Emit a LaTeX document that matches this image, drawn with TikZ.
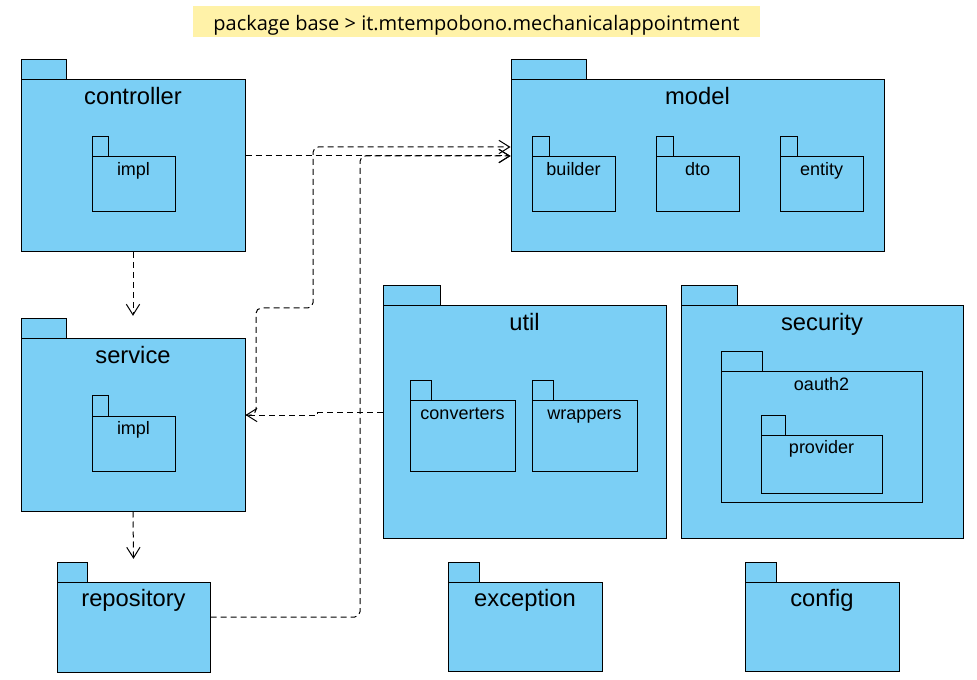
\documentclass[tikz,border=0pt]{standalone}
\usepackage{fontspec}
\setmainfont{Liberation Sans}
\newfontfamily\titlefont{Open Sans}
\usetikzlibrary{arrows.meta,fit,positioning}
\definecolor{pkgblue}{RGB}{123,207,245}
\definecolor{notey}{RGB}{255,242,168}
\tikzset{%
    tabbox/.style={draw, fill=pkgblue, line width=0.75pt, inner sep=0pt},
    pkgbox/.style={draw, fill=pkgblue, line width=0.75pt, inner sep=0pt},
    pkglbl/.style={font=\fontsize{17.8}{20}\selectfont, anchor=base, inner sep=0pt, yshift=-18.75pt},
    subpkglbl/.style={font=\fontsize{13.5}{16}\selectfont, anchor=base, inner sep=0pt, yshift=-14.6pt},
    dep/.style={line width=0.75pt, dash pattern=on 4.5pt off 3pt, -{Straight Barb[length=8pt,width=10pt]}},
    titlebox/.style={fill=notey, inner sep=0pt},
}
% package: label style, name, text, x1, y1 (tab top), x2, y2, tab right
\newcommand\pkg[8]{%
    \node[tabbox, fit={(#4,#5) (#8,#5+20)}] (#2-t) {};
    \node[pkgbox, fit={(#4,#5+20) (#6,#7)}] (#2) {};
    \node[#1] (#2-l) at (#2.north) {#3};
}

\begin{document}
\begin{tikzpicture}[x=0.75pt,y=-0.75pt]
    \useasboundingbox (0,0) rectangle (977,680);
    \node[titlebox, fit={(193,6) (760,37)}] (title) {};
    \node[font=\titlefont\fontsize{15}{18}\selectfont, yshift=-2.5pt] (title-l) at (title) {package base > it.mtempobono.mechanicalappointment};

    \pkg{pkglbl}{controller}{controller}{21}{60}{245}{252}{66}
    \pkg{subpkglbl}{ctrl-impl}{impl}{92}{137}{175}{212}{108}
    \pkg{pkglbl}{model}{model}{511}{60}{884}{252}{586}
    \pkg{subpkglbl}{builder}{builder}{532}{137}{615}{212}{549}
    \pkg{subpkglbl}{dto}{dto}{656}{137}{739}{212}{673}
    \pkg{subpkglbl}{entity}{entity}{780}{137}{863}{212}{797}
    \pkg{pkglbl}{service}{service}{21}{319}{245}{511}{66}
    \pkg{subpkglbl}{svc-impl}{impl}{92}{396}{175}{471}{108}
    \pkg{pkglbl}{util}{util}{383}{286}{666}{538}{440}
    \pkg{subpkglbl}{converters}{converters}{410}{381}{515}{471}{431}
    \pkg{subpkglbl}{wrappers}{wrappers}{532}{381}{637}{471}{553}
    \pkg{pkglbl}{security}{security}{681}{286}{963}{538}{737}
    \pkg{subpkglbl}{oauth2}{oauth2}{721}{352}{922}{502}{762}
    \pkg{subpkglbl}{provider}{provider}{761}{415}{882}{493}{785}
    \pkg{pkglbl}{repository}{repository}{57}{562}{210}{672}{87}
    \pkg{pkglbl}{exception}{exception}{448}{562}{602}{671}{479}
    \pkg{pkglbl}{config}{config}{745}{562}{899}{671}{776}

    % dependencies
    \draw[dep] ([yshift=7.5pt]controller.east) -- ([yshift=7.5pt]model.west);
    \draw[dep] (controller.south) -- ([yshift=2pt]service-t.north -| service.north);
    \draw[dep] (service.south) -- ([yshift=2pt]repository-t.north -| repository.north);
    \draw[dep, rounded corners=4pt] ([yshift=7.5pt]service.east) -| (256,308) -| (313,147) -- ([yshift=14.25pt]model.west);
    \draw[dep] ([yshift=7.1pt]util.west) -- ++(-65,0) |- ([yshift=7.5pt]service.east);
    \draw[dep, rounded corners=4pt] ([yshift=7.5pt]repository.east) -| (360,156) -- ([yshift=7.5pt]model.west);
\end{tikzpicture}
\end{document}
